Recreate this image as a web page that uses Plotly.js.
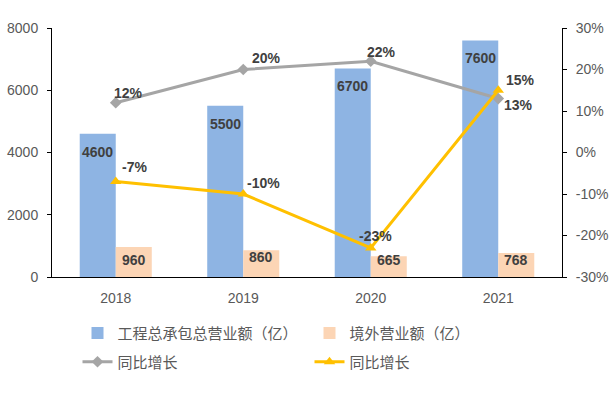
<!DOCTYPE html>
<html>
<head>
<meta charset="utf-8">
<script src="https://cdn.plot.ly/plotly-3.0.1.min.js"></script>
<style>html,body{margin:0;padding:0;background:#fff;}#chart{width:613px;height:397px;}</style>
</head>
<body>
<div id="chart"></div>
<script>
// ---- data ----
const years = ['2018', '2019', '2020', '2021'];
const totalRevenue = [4600, 5500, 6700, 7600];          // 工程总承包总营业额（亿）
const overseasRevenue = [960, 860, 665, 768];           // 境外营业额（亿）
const totalGrowth = [12, 20, 22, 13];                   // 同比增长 (%)
const overseasGrowth = [-7, -10, -23, 15];              // 同比增长 (%)
const leftTicks = [0, 2000, 4000, 6000, 8000];
const rightTicks = [-30, -20, -10, 0, 10, 20, 30];
const seriesNames = ['工程总承包总营业额（亿）', '境外营业额（亿）', '同比增长', '同比增长'];

// ---- styles ----
const blue = '#8EB4E3', peach = '#FCD5B5', gray = '#A5A5A5', gold = '#FFC000';
const labelFont = {family: 'Liberation Sans, Arial, sans-serif', size: 14, color: '#404040'};
const tickFont = {family: 'Liberation Sans, Arial, sans-serif', size: 14, color: '#595959'};
const legendFont = {family: 'Noto Sans CJK SC, sans-serif', size: 15, color: '#595959'};
const totalShift = [[0, -18], [0, -18], [0, -18], [0, -18]];
const overseasShift = [[0, -13], [0, -7], [0, -4], [0, -7]];
const totalGrowthShift = [[13, 10], [23, 12], [11, 9], [20, -6]];
const overseasGrowthShift = [[19, 15], [20, 11], [5, 12], [22, 10]];

const traces = [
  {type: 'bar', x: years, y: totalRevenue, name: seriesNames[0], marker: {color: blue}, hoverinfo: 'none', legend: 'legend'},
  {type: 'bar', x: years, y: overseasRevenue, name: seriesNames[1], marker: {color: peach}, hoverinfo: 'none', legend: 'legend'},
  {type: 'scatter', mode: 'lines+markers', x: years, y: totalGrowth, yaxis: 'y2', name: seriesNames[2], legend: 'legend2',
   line: {color: gray, width: 3}, marker: {symbol: 'diamond', size: 9, color: gray}},
  {type: 'scatter', mode: 'lines+markers', x: years, y: overseasGrowth, yaxis: 'y2', name: seriesNames[3], legend: 'legend2',
   line: {color: gold, width: 3}, marker: {symbol: 'triangle-up', size: 10, color: gold}}
];

const annotations = [];
years.forEach((yr, i) => {
  annotations.push({x: i, y: totalRevenue[i], xref: 'x', yref: 'y', text: '<b>' + totalRevenue[i] + '</b>',
    showarrow: false, xshift: -18 + totalShift[i][0], yshift: totalShift[i][1], font: labelFont});
  annotations.push({x: i, y: overseasRevenue[i], xref: 'x', yref: 'y', text: '<b>' + overseasRevenue[i] + '</b>',
    showarrow: false, xshift: 18 + overseasShift[i][0], yshift: overseasShift[i][1], font: labelFont});
  annotations.push({x: i, y: totalGrowth[i], xref: 'x', yref: 'y2', text: '<b>' + totalGrowth[i] + '%</b>',
    showarrow: false, xshift: totalGrowthShift[i][0], yshift: totalGrowthShift[i][1], font: labelFont});
  annotations.push({x: i, y: overseasGrowth[i], xref: 'x', yref: 'y2', text: '<b>' + overseasGrowth[i] + '%</b>',
    showarrow: false, xshift: overseasGrowthShift[i][0], yshift: overseasGrowthShift[i][1], font: labelFont});
});

const legendBase = {orientation: 'h', xanchor: 'left', yanchor: 'top',
  entrywidth: 187, entrywidthmode: 'pixels', font: legendFont, bgcolor: 'rgba(0,0,0,0)'};

const layout = {
  width: 613, height: 397,
  margin: {l: 52, r: 51, t: 28, b: 120},
  paper_bgcolor: '#fff', plot_bgcolor: '#fff',
  barmode: 'group', bargap: 0.435, bargroupgap: 0,
  showlegend: true,
  xaxis: {type: 'category', range: [-0.5, 3.5], autorange: false, showline: true, linecolor: '#000', linewidth: 1,
    ticks: '', showgrid: false, tickfont: tickFont, ticklabelstandoff: 8, fixedrange: true},
  yaxis: {range: [0, 8000], autorange: false, tickvals: leftTicks, showline: true, linecolor: '#000', linewidth: 1,
    ticks: 'outside', ticklen: 4, tickcolor: '#000', showgrid: false, zeroline: false,
    tickfont: tickFont, ticklabelstandoff: 6},
  yaxis2: {range: [-30, 30], autorange: false, tickvals: rightTicks, ticktext: rightTicks.map(v => v + '%'),
    overlaying: 'y', side: 'right', showline: true, linecolor: '#000', linewidth: 1,
    ticks: 'outside', ticklen: 4, tickcolor: '#000', showgrid: false, zeroline: false,
    tickfont: tickFont, ticklabelstandoff: 6},
  legend: Object.assign({}, legendBase, {x: 0.05, y: -0.16}),
  legend2: Object.assign({}, legendBase, {x: 0.05, y: -0.275}),
  annotations: annotations
};

Plotly.newPlot('chart', traces, layout, {displayModeBar: false, staticPlot: true});
</script>
</body>
</html>
